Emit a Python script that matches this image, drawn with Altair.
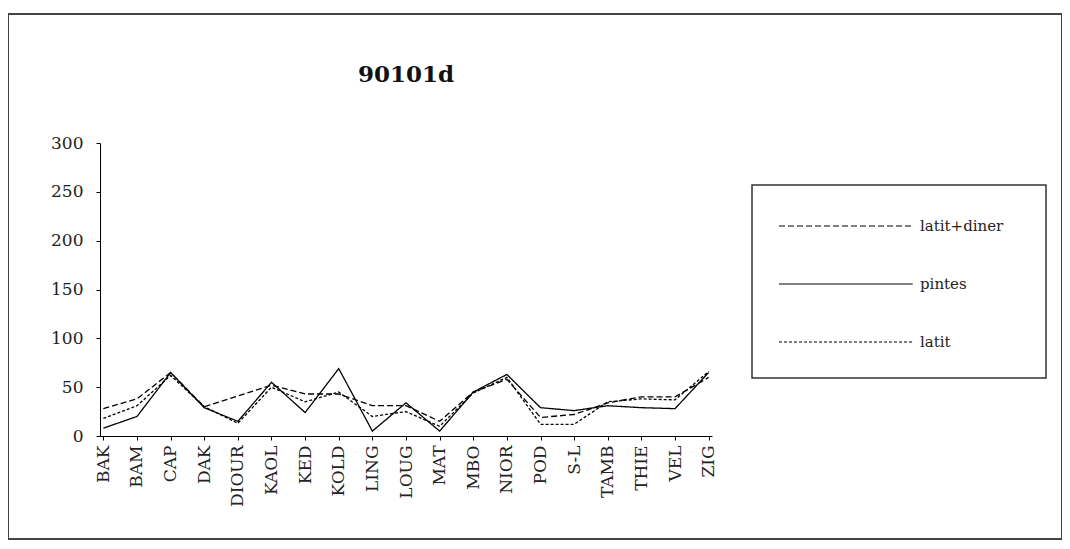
import altair as alt
import pandas as pd

categories = ["BAK", "BAM", "CAP", "DAK", "DIOUR", "KAOL", "KED", "KOLD", "LING",
              "LOUG", "MAT", "MBO", "NIOR", "POD", "S-L", "TAMB", "THIE", "VEL", "ZIG"]
series_names = ["latit+diner", "pintes", "latit"]
latit_diner = [28, 38, 65, 30, 41, 52, 43, 43, 31, 31, 15, 45, 58, 19, 22, 34, 40, 40, 60]
pintes = [8, 20, 65, 29, 15, 55, 24, 69, 5, 34, 5, 45, 63, 29, 26, 31, 29, 28, 65]
latit = [18, 31, 62, 30, 13, 50, 35, 45, 20, 25, 10, 44, 60, 12, 12, 35, 38, 37, 66]
y_ticks = [0, 50, 100, 150, 200, 250, 300]

rows = []
for name, vals in zip(series_names, [latit_diner, pintes, latit]):
    for c, v in zip(categories, vals):
        rows.append({"cat": c, "serie": name, "val": v})
df = pd.DataFrame(rows)

FONT = "DejaVu Serif"

lines = alt.Chart(df).mark_line(color="black", strokeWidth=1.3).encode(
    x=alt.X("cat:N", sort=categories, scale=alt.Scale(type="point", padding=0.1),
            axis=alt.Axis(title=None, labelAngle=-90, labelFont=FONT, labelFontSize=17,
                          labelColor="#222", domainColor="black", tickColor="black",
                          tickSize=4, labelPadding=5, grid=False)),
    y=alt.Y("val:Q", scale=alt.Scale(domain=[0, 300]),
            axis=alt.Axis(title=None, values=y_ticks, labelFont=FONT, labelFontSize=17,
                          labelColor="#222", domainColor="black", tickColor="black",
                          tickSize=4, labelPadding=13, grid=False)),
    strokeDash=alt.StrokeDash("serie:N", sort=series_names,
                              scale=alt.Scale(domain=series_names,
                                              range=[[6, 3], [1, 0], [3, 2]]),
                              legend=alt.Legend(title=None, orient="none", legendX=678, legendY=75,
                                                padding=0,
                                                symbolType="M-1,0H18.1", symbolSize=196,
                                                symbolStrokeColor="black", symbolStrokeWidth=1.2,
                                                labelFont=FONT, labelFontSize=15, labelColor="#222",
                                                rowPadding=42, labelOffset=126)),
    detail="serie:N",
)

frame = alt.Chart(pd.DataFrame({"a": [0]})).mark_rect(
    fill=None, stroke="#444", strokeWidth=2
).encode(x=alt.value(-92), x2=alt.value(962), y=alt.value(-129), y2=alt.value(396))

legend_box = alt.Chart(pd.DataFrame({"a": [0]})).mark_rect(
    fill=None, stroke="#333", strokeWidth=1.5
).encode(x=alt.value(652), x2=alt.value(946), y=alt.value(42), y2=alt.value(235))

chart = alt.layer(frame, legend_box, lines).properties(
    width=612, height=293,
    title=alt.TitleParams("90101d", font=FONT, fontSize=23, fontWeight="bold",
                          anchor="middle", offset=-74, color="#111"),
    autosize=alt.AutoSizeParams(type="none"),
    padding={"left": 92, "top": 135, "right": 350, "bottom": 105},
).configure_view(strokeWidth=0)

chart.save("out.html", embed_options={"renderer": "svg", "actions": False})
